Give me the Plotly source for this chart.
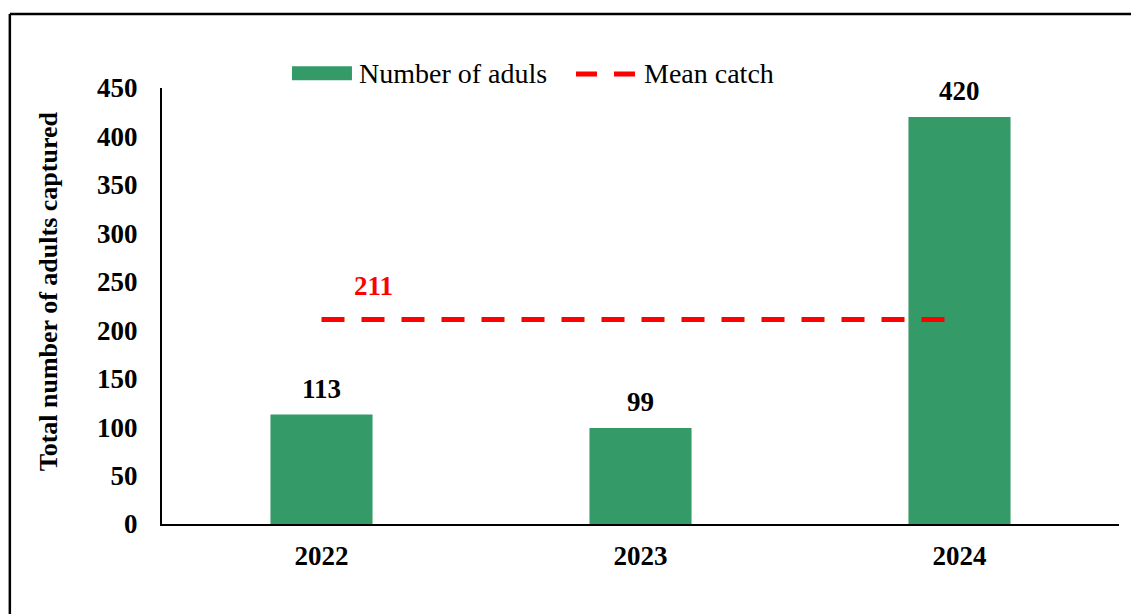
import plotly.graph_objects as go

years = ["2022", "2023", "2024"]
adults = [113, 99, 420]
mean_catch = [211, 211, 211]

GREEN = "#349A68"
RED = "#FF0000"
FONT = "Liberation Serif, Times New Roman, serif"

fig = go.Figure()
fig.add_trace(go.Bar(
    x=years,
    y=adults,
    name="Number of aduls",
    marker=dict(color=GREEN, line=dict(width=0)),
))
fig.add_trace(go.Scatter(
    x=years,
    y=mean_catch,
    name="Mean catch",
    mode="lines",
    line=dict(color=RED, width=5, dash="23px,17px"),
))

# value labels above the bars (x is the category index)
for i, v in enumerate(adults):
    fig.add_annotation(
        x=i, y=v, text=str(v), showarrow=False,
        yanchor="bottom", yshift=9,
        font=dict(family=FONT, size=27, color="black", weight="bold"),
    )

# mean value label
fig.add_annotation(
    x=0, y=mean_catch[0], text=str(mean_catch[0]),
    showarrow=False, xshift=52, yshift=34,
    font=dict(family=FONT, size=27, color=RED, weight="bold"),
)

# y title as annotation so it sits where the original one does
fig.add_annotation(
    xref="paper", yref="paper", x=-0.119, y=0.534,
    text="Total number of adults captured", textangle=-90,
    showarrow=False, xanchor="center", yanchor="middle",
    font=dict(family=FONT, size=26, color="black", weight="bold"),
)

# legend drawn by hand so the keys look like the Excel ones
fig.add_shape(type="rect", xref="paper", yref="paper",
              x0=0.1358, x1=0.1985, y0=1.018, y1=1.050,
              fillcolor=GREEN, line=dict(width=0))
fig.add_annotation(xref="paper", yref="paper", x=0.2040, y=1.034,
                   text="Number of aduls", showarrow=False,
                   xanchor="left", yanchor="middle",
                   font=dict(family=FONT, size=28, color="black"))
fig.add_shape(type="line", xref="paper", yref="paper",
              x0=0.4326, x1=0.4963, y0=1.032, y1=1.032,
              line=dict(color=RED, width=5, dash="21px,17px"))
fig.add_annotation(xref="paper", yref="paper", x=0.5020, y=1.034,
                   text="Mean catch", showarrow=False,
                   xanchor="left", yanchor="middle",
                   font=dict(family=FONT, size=28, color="black"))

# outer frame (left + top edges visible)
fig.add_shape(type="line", xref="paper", yref="paper",
              x0=-0.159, x1=-0.159, y0=1.17, y1=-0.3,
              line=dict(color="black", width=2.5))
fig.add_shape(type="line", xref="paper", yref="paper",
              x0=-0.159, x1=1.1, y0=1.17, y1=1.17,
              line=dict(color="black", width=2.5))

fig.update_layout(
    width=1131,
    height=606,
    margin=dict(l=154, r=20, t=80, b=90, autoexpand=False),
    plot_bgcolor="white",
    paper_bgcolor="white",
    bargap=0.68,
    font=dict(family=FONT, color="black"),
    showlegend=False,
    xaxis=dict(
        type="category",
        range=[-0.5, 2.5],
        showline=True, linecolor="black", linewidth=2,
        showgrid=False, ticks="",
        ticklabelstandoff=7,
        tickfont=dict(family=FONT, size=27, color="black", weight="bold"),
    ),
    yaxis=dict(
        range=[0, 450], dtick=50,
        showline=True, linecolor="black", linewidth=2,
        showgrid=False, zeroline=False, ticks="",
        ticklabelstandoff=17,
        tickfont=dict(family=FONT, size=27, color="black", weight="bold"),
    ),
)

fig.write_html("out.html")
